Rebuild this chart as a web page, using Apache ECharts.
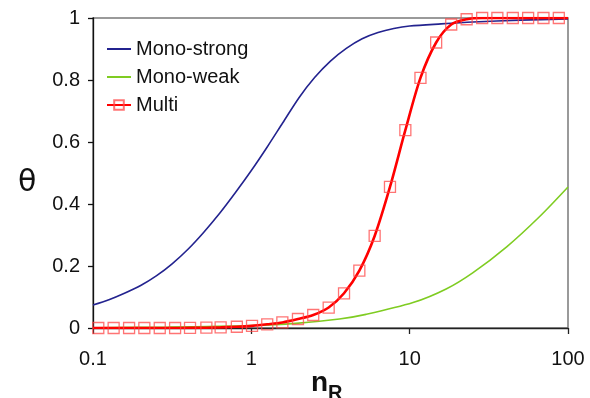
<!DOCTYPE html>
<html>
<head>
<meta charset="utf-8">
<script src="https://cdn.jsdelivr.net/npm/echarts@6/dist/echarts.min.js"></script>
<style>
html,body{margin:0;padding:0;background:#fff;}
#c{width:590px;height:398px;}
</style>
</head>
<body>
<div id="c"></div>
<script>
// Data
var strongX = [0.1, 0.126, 0.158, 0.2, 0.251, 0.316, 0.398, 0.501, 0.631, 0.794, 1.0, 1.26, 1.58, 2.0, 2.51, 3.16, 3.98, 5.01, 6.31, 7.94, 10, 15.8, 25.1, 50.1, 100];
var strongY = [0.074, 0.091, 0.112, 0.137, 0.168, 0.207, 0.254, 0.309, 0.370, 0.437, 0.508, 0.584, 0.662, 0.743, 0.808, 0.861, 0.902, 0.933, 0.953, 0.966, 0.974, 0.981, 0.987, 0.993, 0.997];

var weakX = [0.1, 0.3, 1, 1.9, 3.6, 5.3, 10.5, 17, 25, 41, 66, 100];
var weakY = [0.001, 0.003, 0.008, 0.015, 0.029, 0.044, 0.082, 0.126, 0.178, 0.262, 0.359, 0.455];

var multiX = [0.108, 0.135, 0.169, 0.211, 0.264, 0.33, 0.41, 0.52, 0.64, 0.81, 1.01, 1.26, 1.57, 1.97, 2.46, 3.08, 3.85, 4.81, 6.01, 7.51, 9.39, 11.7, 14.7, 18.3, 22.9, 28.7, 35.8, 44.8, 56.0, 70.0, 87.5];
var multiY = [0, 0, 0, 0, 0, 0, 0.0005, 0.001, 0.002, 0.004, 0.007, 0.012, 0.018, 0.029, 0.042, 0.066, 0.112, 0.185, 0.297, 0.455, 0.638, 0.807, 0.921, 0.979, 0.996, 1, 1, 1, 1, 1, 1];
var multiStart = [0.1, 0];
var multiEnd = [100, 1];

var seriesNames = ['Mono-strong', 'Mono-weak', 'Multi'];
var xRange = [0.1, 100];
var yRange = [0, 1];
var yStep = 0.2;

function pairs(xs, ys) { return xs.map(function (x, i) { return [x, ys[i]]; }); }

var multiData = [{ value: multiStart, symbol: 'none' }]
  .concat(pairs(multiX, multiY))
  .concat([{ value: multiEnd, symbol: 'none' }]);

var FONT = 'Liberation Sans, Arial, sans-serif';
var chart = echarts.init(document.getElementById('c'), null, { renderer: 'canvas' });
chart.setOption({
  animation: false,
  backgroundColor: '#ffffff',
  grid: { left: 93, right: 22, top: 18, bottom: 70, show: true, borderColor: '#7a7a7a', borderWidth: 1.5, backgroundColor: 'transparent' },
  legend: {
    orient: 'vertical', left: 101, top: 34, itemWidth: 24, itemHeight: 12, itemGap: 8,
    textStyle: { fontFamily: FONT, fontSize: 20, color: '#111' },
    data: [
      { name: seriesNames[0], itemStyle: { opacity: 0 } },
      { name: seriesNames[1], itemStyle: { opacity: 0 } },
      { name: seriesNames[2] }
    ]
  },
  xAxis: {
    type: 'log', logBase: 10, min: xRange[0], max: xRange[1],
    axisLine: { show: true, onZero: false, lineStyle: { color: '#222', width: 1.3 } },
    axisTick: { show: true, inside: false, length: 6, lineStyle: { color: '#222', width: 1.3 } },
    minorTick: { show: false },
    splitLine: { show: false },
    axisLabel: { fontFamily: FONT, fontSize: 20, color: '#111', margin: 21 }
  },
  yAxis: {
    type: 'value', min: yRange[0], max: yRange[1], interval: yStep,
    axisLine: { show: true, lineStyle: { color: '#111', width: 1.3 } },
    axisTick: { show: true, inside: false, length: 5, lineStyle: { color: '#111', width: 1.3 } },
    splitLine: { show: false },
    axisLabel: { fontFamily: FONT, fontSize: 20, color: '#111', margin: 13 }
  },
  graphic: [
    { type: 'text', left: 18, top: 168, style: { text: 'θ', font: '30px "DejaVu Sans", sans-serif', fill: '#111' } },
    { type: 'text', left: 311, top: 369, style: { text: 'n', font: 'bold 28px ' + FONT, fill: '#111' } },
    { type: 'text', left: 328, top: 383, style: { text: 'R', font: 'bold 20px ' + FONT, fill: '#111' } }
  ],
  series: [
    {
      name: seriesNames[0], type: 'line', smooth: 0.3, symbol: 'none', showSymbol: false,
      lineStyle: { color: '#23238f', width: 1.6 }, itemStyle: { color: '#23238f' },
      data: pairs(strongX, strongY), z: 2
    },
    {
      name: seriesNames[1], type: 'line', smooth: 0.3, symbol: 'none', showSymbol: false,
      lineStyle: { color: '#7fcc22', width: 1.6 }, itemStyle: { color: '#7fcc22' },
      data: pairs(weakX, weakY), z: 2
    },
    {
      name: seriesNames[2], type: 'line', smooth: 0.3, symbol: 'rect', symbolSize: 11, showSymbol: true,
      lineStyle: { color: '#ff0000', width: 2.6 },
      itemStyle: { color: 'rgba(255,255,255,0)', borderColor: 'rgba(255,70,70,0.75)', borderWidth: 1.3 },
      data: multiData, z: 3
    }
  ]
});
</script>
</body>
</html>
